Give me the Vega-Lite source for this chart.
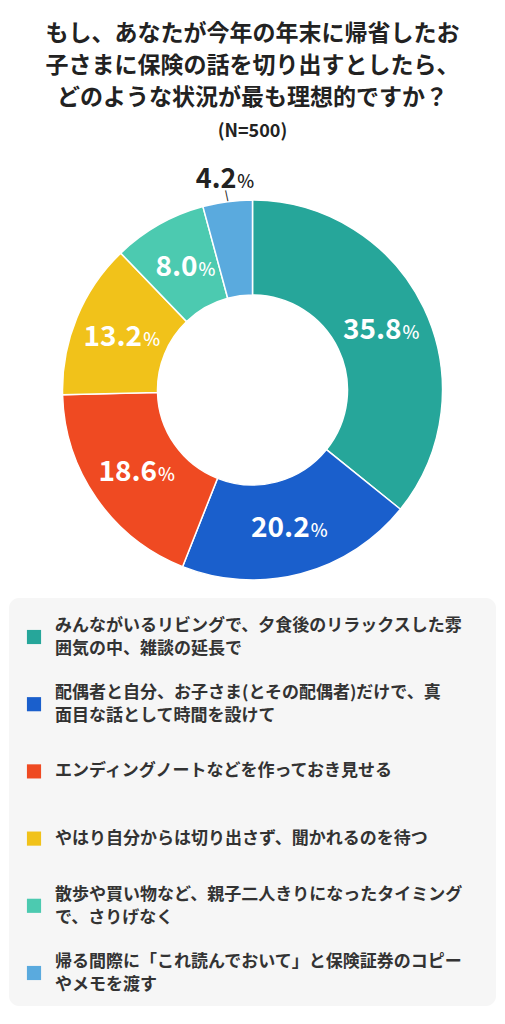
{
  "$schema": "https://vega.github.io/schema/vega-lite/v6.json",
  "padding": {"top": 22, "left": 0, "right": 0, "bottom": 0},
  "background": "white",
  "datasets": {
    "survey": [
      {"rank": 1, "choice": "みんながいるリビングで、夕食後のリラックスした雰囲気の中、雑談の延長で", "pct": 35.8},
      {"rank": 2, "choice": "配偶者と自分、お子さま(とその配偶者)だけで、真面目な話として時間を設けて", "pct": 20.2},
      {"rank": 3, "choice": "エンディングノートなどを作っておき見せる", "pct": 18.6},
      {"rank": 4, "choice": "やはり自分からは切り出さず、聞かれるのを待つ", "pct": 13.2},
      {"rank": 5, "choice": "散歩や買い物など、親子二人きりになったタイミングで、さりげなく", "pct": 8.0},
      {"rank": 6, "choice": "帰る間際に「これ読んでおいて」と保険証券のコピーやメモを渡す", "pct": 4.2}
    ]
  },
  "title": {
    "text": ["もし、あなたが今年の年末に帰省したお", "子さまに保険の話を切り出すとしたら、", "どのような状況が最も理想的ですか？"],
    "subtitle": "(N=500)",
    "anchor": "middle",
    "font": "Noto Sans CJK JP",
    "fontSize": 23,
    "fontWeight": "bold",
    "lineHeight": 32,
    "color": "#222222",
    "subtitleFont": "Noto Sans CJK JP",
    "subtitleFontSize": 18,
    "subtitleFontWeight": "bold",
    "subtitleColor": "#222222",
    "subtitleLineHeight": 20,
    "subtitlePadding": 13,
    "offset": 25
  },
  "vconcat": [
    {
      "width": 505,
      "height": 390,
      "view": {"stroke": null},
      "data": {"name": "survey"},
      "encoding": {
        "theta": {"field": "pct", "type": "quantitative", "stack": true},
        "order": {"field": "rank", "type": "quantitative"}
      },
      "layer": [
        {
          "mark": {"type": "arc", "innerRadius": 95, "outerRadius": 190, "stroke": "white", "strokeWidth": 1.5},
          "encoding": {
            "color": {
              "field": "choice",
              "type": "nominal",
              "sort": {"field": "rank"},
              "legend": null,
              "scale": {"range": ["#26a69a", "#1a5fcc", "#ef4a22", "#f1c21a", "#4ccab0", "#5aaade"]}
            }
          }
        },
        {
          "mark": {
            "type": "text", "radius": 142, "align": "right", "baseline": "alphabetic", "dy": 10,
            "dx": {"expr": "datum.pct >= 10 ? 21 : 15"},
            "font": "Noto Sans CJK JP", "fontSize": 28, "fontWeight": "bold", "letterSpacing": 1, "color": "white"
          },
          "encoding": {
            "text": {"condition": {"test": "datum.pct >= 5", "field": "pct", "type": "quantitative", "format": ".1f"}, "value": ""}
          }
        },
        {
          "mark": {
            "type": "text", "radius": 142, "align": "left", "baseline": "alphabetic", "dy": 10,
            "dx": {"expr": "datum.pct >= 10 ? 22 : 16"},
            "font": "Noto Sans CJK JP", "fontSize": 18, "fontWeight": 500, "color": "white"
          },
          "encoding": {
            "text": {"condition": {"test": "datum.pct >= 5", "value": "%"}, "value": ""}
          }
        },
        {
          "mark": {
            "type": "text", "radius": 214, "align": "right", "baseline": "alphabetic", "dy": 10, "dx": 12,
            "font": "Noto Sans CJK JP", "fontSize": 27, "fontWeight": "bold", "letterSpacing": 3, "color": "#222222"
          },
          "encoding": {
            "text": {"condition": {"test": "datum.pct < 5", "field": "pct", "type": "quantitative", "format": ".1f"}, "value": ""}
          }
        },
        {
          "mark": {
            "type": "text", "radius": 214, "align": "left", "baseline": "alphabetic", "dy": 10, "dx": 13,
            "font": "Noto Sans CJK JP", "fontSize": 18, "fontWeight": 500, "color": "#222222"
          },
          "encoding": {
            "text": {"condition": {"test": "datum.pct < 5", "value": "%"}, "value": ""}
          }
        },
        {
          "mark": {
            "type": "text", "radius": 196, "baseline": "middle", "angle": -12,
            "font": "DejaVu Sans", "fontSize": 11, "color": "#222222"
          },
          "encoding": {
            "text": {"condition": {"test": "datum.pct < 5", "value": "|"}, "value": ""}
          }
        }
      ]
    },
    {
      "width": 487,
      "height": 408,
      "view": {"fill": "#f6f6f6", "cornerRadius": 10, "stroke": null},
      "data": {"name": "survey"},
      "encoding": {
        "y": {"field": "choice", "type": "nominal", "sort": {"field": "rank"}, "axis": null, "scale": {"type": "point", "range": [39, 375], "padding": 0}}
      },
      "layer": [
        {
          "mark": {"type": "square", "size": 200, "opacity": 1},
          "encoding": {
            "x": {"value": 25},
            "color": {"field": "choice", "type": "nominal", "sort": {"field": "rank"}, "legend": null}
          }
        },
        {
          "mark": {
            "type": "text", "align": "left", "baseline": "middle", "lineHeight": 23,
            "dy": {"expr": "length(datum.choice) > 24 ? -11 : 0"},
            "font": "Noto Sans CJK JP", "fontSize": 17, "fontWeight": "bold", "letterSpacing": 2, "color": "#333333",
            "text": {"expr": "length(datum.choice) > 24 ? [substring(datum.choice, 0, 24), substring(datum.choice, 24)] : datum.choice"}
          },
          "encoding": {"x": {"value": 46}}
        }
      ]
    }
  ],
  "spacing": 13,
  "center": true,
  "bounds": "flush",
  "config": {
    "style": {
      "group-title": {"letterSpacing": 2.2},
      "group-subtitle": {"letterSpacing": 1.5}
    }
  }
}
